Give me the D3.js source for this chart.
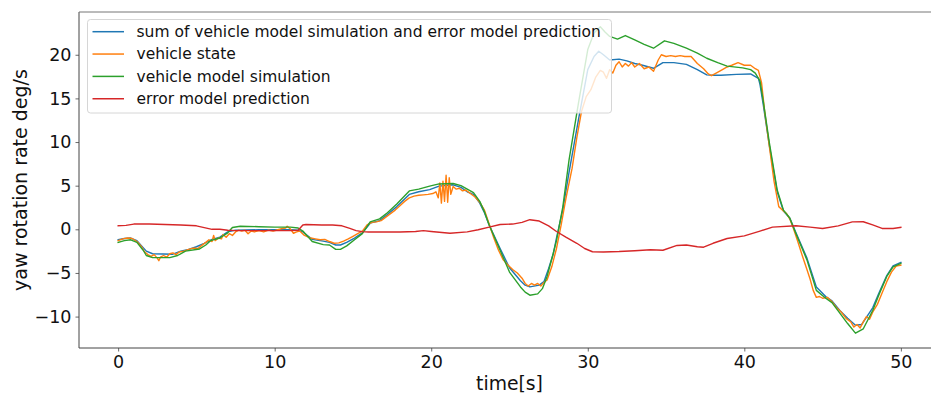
<!DOCTYPE html>
<html>
<head>
<meta charset="utf-8">
<script src="https://cdn.jsdelivr.net/npm/d3@7"></script>
<style>
  body { margin: 0; background: #fff; }
  svg { display: block; font-family: "DejaVu Sans", sans-serif; }
</style>
</head>
<body>
<svg id="chart" width="931" height="398"></svg>
<script>
// series names (legend order = draw order)
const seriesNames = [
  "sum of vehicle model simulation and error model prediction",
  "vehicle state",
  "vehicle model simulation",
  "error model prediction"
];
const seriesColors = ["#1f77b4", "#ff7f0e", "#2ca02c", "#d62728"];

const xTicks = [0, 10, 20, 30, 40, 50];
const yTicks = [-10, -5, 0, 5, 10, 15, 20];

// sum of vehicle model simulation and error model prediction
const sumTime = [0, 0.4, 0.8, 1.2, 1.6, 1.8, 2.2, 3.5, 4.0, 4.5, 5.0, 5.5, 6.0, 6.5, 7.0, 7.5, 9, 10, 11, 11.5,
  11.8, 12.4, 13.1, 13.5, 13.9, 14.2, 14.6, 15.1, 15.6, 16.1, 16.7, 17.2, 17.8, 18.6, 19.2, 19.9, 20.5, 21.4, 21.9, 22.3,
  22.7, 23.1, 23.4, 23.7, 24.4, 25.0, 25.7, 26.0, 26.3, 26.9, 27.2, 27.5, 27.8, 28.0, 28.4, 28.8, 29.4, 30.0, 30.4, 30.7,
  31.0, 31.4, 32.0, 32.5, 33.0, 33.5, 34.2, 34.8, 35.5, 36.3, 37.0, 37.6, 38.0, 38.5, 39.5, 40.4, 40.9, 41.0, 41.2, 41.6,
  42.1, 42.5, 42.9, 43.3, 44.0, 44.6, 45.2, 45.6, 46.1, 46.6, 47.1, 47.5, 48.2, 48.6, 49.1, 49.5, 50];
const sumValue = [-1.2, -1.05, -1.0, -1.3, -2.1, -2.5, -2.8, -2.85, -2.5, -2.3, -2.0, -1.6, -1.15, -0.9, -0.3, -0.1, -0.05, -0.05, -0.05, -0.1,
  -0.3, -1.15, -1.35, -1.5, -1.8, -1.8, -1.5, -1.0, -0.4, 0.7, 1.0, 1.7, 2.6, 4.0, 4.3, 4.55, 4.95, 5.1, 4.8, 4.3,
  4.0, 3.0, 1.9, 0.5, -2.2, -4.4, -5.9, -6.4, -6.6, -6.4, -6.0, -4.5, -2.8, -1.0, 2.2, 6.5, 12.5, 18.3, 19.8, 20.4,
  20.0, 19.4, 19.5, 19.3, 19.0, 18.8, 18.45, 19.1, 19.1, 18.9, 18.3, 17.7, 17.65, 17.65, 17.75, 17.8, 17.3, 16.6, 14.4, 9.6,
  4.3, 2.1, 1.3, -0.4, -3.3, -6.6, -7.7, -8.2, -9.3, -10.2, -11.0, -10.9, -9.0, -7.3, -5.3, -4.2, -3.8];

// vehicle state (measured, noisy)
const stateTime = [0, 0.3, 0.6, 0.9, 1.2, 1.5, 1.7, 1.9, 2.1, 2.3, 2.5, 2.6, 2.7, 2.9, 3.1, 3.3, 3.5, 3.7, 3.9, 4.2,
  4.5, 4.8, 5.1, 5.3, 5.6, 5.8, 6.0, 6.1, 6.2, 6.4, 6.6, 6.7, 6.9, 7.1, 7.3, 7.5, 7.7, 7.9, 8.1, 8.3,
  8.5, 8.7, 9.0, 9.3, 9.6, 9.9, 10.2, 10.5, 10.7, 10.8, 11.0, 11.2, 11.4, 11.6, 11.9, 12.3, 12.6, 12.9, 13.2, 13.5,
  13.8, 14.1, 14.4, 14.7, 15.0, 15.3, 15.6, 15.9, 16.2, 16.5, 16.8, 17.1, 17.4, 17.7, 18.0, 18.3, 18.6, 18.9, 19.2, 19.5,
  19.8, 20.1, 20.3, 20.45, 20.55, 20.65, 20.75, 20.85, 20.95, 21.05, 21.15, 21.25, 21.4, 21.6, 21.8, 22.0, 22.2, 22.5, 22.8, 23.1,
  23.4, 23.7, 24.0, 24.3, 24.6, 24.9, 25.2, 25.5, 25.8, 26.0, 26.2, 26.4, 26.6, 26.8, 27.0, 27.2, 27.4, 27.7, 28.0, 28.3,
  28.6, 29.0, 29.3, 29.6, 29.9, 30.2, 30.5, 30.8, 31.0, 31.2, 31.4, 31.6, 31.8, 32.0, 32.2, 32.4, 32.6, 32.8, 33.0, 33.3,
  33.6, 33.9, 34.2, 34.5, 34.7, 35.0, 35.3, 35.6, 35.9, 36.2, 36.6, 37.0, 37.4, 37.7, 37.9, 38.2, 38.6, 38.9, 39.2, 39.6,
  40.0, 40.4, 40.7, 40.9, 41.1, 41.3, 41.6, 41.9, 42.2, 42.5, 42.7, 42.9, 43.1, 43.4, 43.7, 44.0, 44.2, 44.4, 44.6, 44.8,
  45.0, 45.3, 45.6, 45.9, 46.2, 46.5, 46.8, 47.0, 47.2, 47.4, 47.6, 47.8, 48.0, 48.2, 48.5, 48.8, 49.1, 49.4, 49.7, 50.0];
const stateValue = [-1.3, -1.1, -1.0, -1.05, -1.4, -2.0, -2.6, -2.9, -3.1, -2.9, -3.3, -3.6, -3.2, -3.0, -3.2, -2.8, -2.7, -2.9, -2.6, -2.5,
  -2.3, -2.15, -2.2, -1.9, -1.5, -1.2, -1.4, -0.7, -1.3, -1.0, -1.1, -0.6, -0.9, -0.5, -0.7, -0.3, -0.1, -0.2, -0.1, -0.5,
  -0.2, -0.3, -0.15, -0.3, -0.1, -0.2, -0.05, 0.1, 0.15, 0.35, 0.05, -0.45, -0.3, -0.2, -0.7, -1.0, -1.1, -1.2, -1.15, -1.4,
  -1.6, -1.55, -1.35, -1.1, -0.8, -0.5, -0.2, 0.5, 0.8, 0.85, 1.0, 1.4, 1.8, 2.2, 2.7, 3.2, 3.6, 3.8, 3.9, 3.95,
  4.0, 4.1, 4.3, 3.6, 5.3, 3.0, 5.5, 3.2, 6.2, 3.1, 5.9, 4.0, 4.9, 4.6, 4.7, 4.4, 4.5, 4.1, 3.7, 3.1,
  2.2, 0.6, -1.0, -2.4, -3.5, -4.1, -4.6, -5.0, -5.6, -6.2, -6.5, -6.2, -6.4, -6.2, -6.5, -6.1, -5.8, -4.3, -2.2, 0.5,
  3.5, 7.0, 10.5, 13.5, 15.2, 16.0, 17.4, 18.2, 18.0, 17.3, 18.3, 17.9, 18.8, 19.2, 18.6, 19.0, 18.7, 19.1, 18.6, 19.0,
  18.4, 18.6, 18.1, 19.4, 20.0, 19.8, 19.9, 19.8, 19.9, 19.8, 19.8, 19.0, 18.4, 17.8, 17.6, 17.9, 18.3, 18.6, 18.8, 19.1,
  18.8, 18.8, 18.4, 18.2, 16.8, 13.5, 9.5, 5.5, 2.6, 2.1, 1.8, 1.2, 0.3, -1.3, -3.0, -4.6, -5.7, -7.0, -7.8, -7.7,
  -7.9, -7.8, -8.3, -9.0, -9.5, -10.2, -10.6, -11.2, -10.9, -11.3, -10.6, -10.0, -10.3, -9.5, -8.6, -7.3, -6.0, -4.9, -4.2, -4.1];

// vehicle model simulation
const simTime = [0, 0.4, 0.8, 1.2, 1.6, 1.8, 2.2, 3.3, 3.8, 4.3, 5.2, 5.6, 5.9, 6.5, 7.0, 7.3, 7.8, 9, 10, 11,
  11.5, 11.8, 12.4, 13.1, 13.5, 13.9, 14.2, 14.6, 15.1, 15.6, 16.1, 16.7, 17.2, 17.8, 18.6, 19.2, 19.9, 20.5, 21.4, 21.9,
  22.3, 22.7, 23.1, 23.4, 23.7, 24.4, 25.0, 25.7, 26.0, 26.3, 26.8, 27.1, 27.4, 27.7, 28.0, 28.4, 28.8, 29.4, 30.0, 30.4,
  30.8, 31.1, 31.4, 31.9, 32.4, 33.0, 33.6, 34.2, 34.9, 35.5, 36.3, 37.0, 37.6, 38.3, 38.9, 39.9, 40.4, 40.7, 41.0, 41.2,
  41.6, 42.1, 42.5, 42.9, 43.3, 44.0, 44.6, 45.2, 45.6, 46.1, 46.6, 47.1, 47.6, 48.2, 48.6, 49.1, 49.5, 50];
const simValue = [-1.5, -1.3, -1.2, -1.5, -2.4, -3.0, -3.25, -3.25, -3.0, -2.5, -2.25, -1.8, -1.3, -1.0, -0.4, 0.2, 0.35, 0.3, 0.25, 0.25,
  0.15, -0.2, -1.4, -1.75, -1.8, -2.3, -2.3, -1.9, -1.2, -0.5, 0.85, 1.2, 1.9, 2.9, 4.4, 4.6, 4.95, 5.2, 5.25, 5.0,
  4.6, 4.2, 3.2, 2.0, 0.5, -2.4, -4.9, -6.6, -7.2, -7.55, -7.4, -6.8, -5.4, -3.4, -1.3, 2.5, 7.9, 14.4, 20.6, 22.5,
  23.2, 22.6, 22.1, 21.8, 22.2, 21.7, 21.2, 20.75, 21.6, 21.3, 20.75, 20.2, 19.6, 19.1, 18.7, 18.5, 18.3, 17.9, 17.0, 14.8,
  9.9, 4.5, 2.2, 1.3, -0.5, -3.5, -7.0, -7.9, -8.4, -9.6, -10.8, -11.9, -11.4, -9.3, -7.5, -5.4, -4.3, -3.9];

// error model prediction
const errTime = [0, 0.5, 1, 2, 3, 4, 5, 5.5, 6, 6.5, 7, 7.5, 8, 9, 10, 11, 11.5, 11.8, 12, 13,
  13.7, 14.3, 14.8, 15.2, 15.6, 16, 17, 18, 19, 19.5, 20, 21.2, 22.3, 23, 23.7, 24.4, 25.2, 25.8, 26.3, 26.9,
  27.5, 28, 28.6, 29.3, 29.8, 30.3, 31, 32, 33, 34, 34.8, 35.7, 36.3, 37, 37.4, 38, 38.9, 40, 41, 41.8,
  43.3, 44.2, 45, 46, 46.9, 47.6, 48.2, 48.8, 49.5, 50];
const errValue = [0.4, 0.45, 0.6, 0.6, 0.55, 0.5, 0.4, 0.2, 0.0, 0.0, -0.1, -0.15, -0.15, -0.15, -0.15, -0.15, -0.1, 0.5, 0.55, 0.5,
  0.5, 0.4, 0.1, -0.15, -0.27, -0.3, -0.3, -0.3, -0.25, -0.15, -0.25, -0.45, -0.3, -0.05, 0.25, 0.55, 0.6, 0.8, 1.1, 0.95,
  0.4, -0.25, -0.9, -1.6, -2.2, -2.57, -2.6, -2.55, -2.45, -2.35, -2.4, -1.85, -1.8, -2.0, -2.05, -1.6, -1.05, -0.75, -0.2, 0.25,
  0.4, 0.25, 0.1, 0.4, 0.85, 0.87, 0.5, 0.1, 0.1, 0.23];

const series = [
  d3.zip(sumTime, sumValue),
  d3.zip(stateTime, stateValue),
  d3.zip(simTime, simValue),
  d3.zip(errTime, errValue)
];

const svg = d3.select("#chart");
const plotLeft = 79, plotRight = 940, plotTop = 12, plotBottom = 348;

const x = d3.scaleLinear().domain([-2.5, 52.5]).range([plotLeft, plotRight]);
const y = d3.scaleLinear().domain([-13.6, 24.9]).range([plotBottom, plotTop]);

svg.append("clipPath").attr("id", "plotClip")
  .append("rect").attr("x", plotLeft).attr("y", plotTop)
  .attr("width", plotRight - plotLeft).attr("height", plotBottom - plotTop);

// data lines
const line = d3.line().x(d => x(d[0])).y(d => y(d[1]));
const plot = svg.append("g").attr("clip-path", "url(#plotClip)");
plot.selectAll("path")
  .data(series)
  .join("path")
  .attr("d", line)
  .attr("fill", "none")
  .attr("stroke", (d, i) => seriesColors[i])
  .attr("stroke-width", 1.4)
  .attr("stroke-linejoin", "round")
  .attr("stroke-linecap", "square");

// axes
const xAxis = svg.append("g")
  .attr("transform", `translate(0,${plotBottom})`)
  .call(d3.axisBottom(x).tickValues(xTicks).tickSize(3.5).tickPadding(4));
const yAxis = svg.append("g")
  .attr("transform", `translate(${plotLeft},0)`)
  .call(d3.axisLeft(y).tickValues(yTicks).tickSize(3.5).tickPadding(4));

[xAxis, yAxis].forEach(g => {
  g.select(".domain").remove();
  g.selectAll(".tick line").attr("stroke", "#444").attr("stroke-width", 0.8);
  g.selectAll(".tick text")
    .attr("fill", "#111")
    .style("font-family", "DejaVu Sans")
    .style("font-size", "17.5px");
});

// spines
svg.append("line").attr("x1", plotLeft).attr("x2", plotLeft).attr("y1", plotTop).attr("y2", plotBottom)
  .attr("stroke", "#444").attr("stroke-width", 1);
svg.append("line").attr("x1", plotLeft).attr("x2", plotRight).attr("y1", plotBottom).attr("y2", plotBottom)
  .attr("stroke", "#444").attr("stroke-width", 1);
svg.append("line").attr("x1", plotLeft).attr("x2", plotRight).attr("y1", plotTop).attr("y2", plotTop)
  .attr("stroke", "#777").attr("stroke-width", 1);

// axis labels
svg.append("text")
  .attr("x", (plotLeft + plotRight) / 2)
  .attr("y", 390)
  .attr("text-anchor", "middle")
  .attr("fill", "#111")
  .style("font-size", "18.8px")
  .text("time[s]");
svg.append("text")
  .attr("transform", `translate(27,${(plotTop + plotBottom) / 2}) rotate(-90)`)
  .attr("text-anchor", "middle")
  .attr("fill", "#111")
  .style("font-size", "19px")
  .text("yaw rotation rate deg/s");

// legend
const legend = svg.append("g");
legend.append("rect")
  .attr("x", 87.5).attr("y", 19.5)
  .attr("width", 524).attr("height", 93.5)
  .attr("rx", 3)
  .attr("fill", "#fff").attr("fill-opacity", 0.8)
  .attr("stroke", "#d6d6d6").attr("stroke-width", 1);
const rows = legend.selectAll("g.row")
  .data(seriesNames)
  .join("g")
  .attr("class", "row")
  .attr("transform", (d, i) => `translate(0,${31.7 + i * 22.35})`);
rows.append("line")
  .attr("x1", 92.5).attr("x2", 124)
  .attr("stroke", (d, i) => seriesColors[i])
  .attr("stroke-width", 1.5);
rows.append("text")
  .attr("x", 136.5)
  .attr("dy", "0.35em")
  .attr("fill", "#111")
  .style("font-size", "15.5px")
  .text(d => d);
</script>
</body>
</html>
